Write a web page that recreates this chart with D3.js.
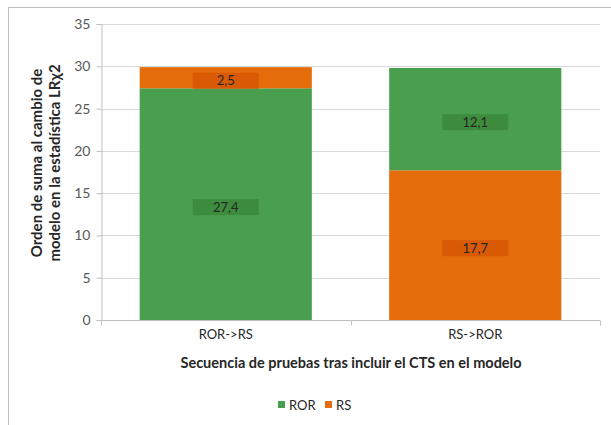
<!DOCTYPE html>
<html>
<head>
<meta charset="utf-8">
<script src="https://cdn.jsdelivr.net/npm/d3@7"></script>
<style>
  html, body { margin: 0; padding: 0; background: #fff; }
  svg { display: block; font-family: Lato, "Open Sans", sans-serif; }
</style>
</head>
<body>
<svg id="chart" width="611" height="425"></svg>
<script>
// ---- data ----
const categories = ["ROR->RS", "RS->ROR"];
const rorValues = [27.4, 12.1];
const rsValues = [2.5, 17.7];
const yTicks = [0, 5, 10, 15, 20, 25, 30, 35];
const seriesNames = ["ROR", "RS"];
const seriesColors = ["#4A9F4E", "#E46C0A"];
const labelBoxColors = ["#3D8C3D", "#D95A05"];
const stackOrder = [["ROR", "RS"], ["RS", "ROR"]]; // bottom-to-top per category
const xTitle = "Secuencia de pruebas tras incluir el CTS en el modelo";
const yTitleLines = ["Orden de suma al cambio de", "modelo en la estadística LRχ2"];

const svg = d3.select("#chart");
const margin = { left: 101, right: 11, top: 24, bottom: 105 };
const W = 611, H = 425;
const x = d3.scaleBand().domain(categories).range([margin.left, W - margin.right]).paddingInner(0.31).paddingOuter(0.155);
const y = d3.scaleLinear().domain([0, 35]).range([H - margin.bottom, margin.top]);

// outer frame (left and top lines)
svg.append("line").attr("x1", 8.5).attr("x2", 8.5).attr("y1", 7).attr("y2", 425).attr("stroke", "#BFBFBF").attr("stroke-width", 1);
svg.append("line").attr("x1", 8).attr("x2", 611).attr("y1", 7.5).attr("y2", 7.5).attr("stroke", "#BFBFBF").attr("stroke-width", 1);

// gridlines
svg.append("g").selectAll("line").data(yTicks.filter(d => d > 0)).join("line")
  .attr("x1", margin.left).attr("x2", W - margin.right)
  .attr("y1", d => Math.round(y(d)) + 0.5).attr("y2", d => Math.round(y(d)) + 0.5)
  .attr("stroke", "#D9D9D9").attr("stroke-width", 1);

// y axis
const yAxis = d3.axisLeft(y).tickValues(yTicks).tickSize(5).tickPadding(6).tickFormat(d3.format("d"));
const gy = svg.append("g").attr("transform", `translate(${margin.left + 0.5},0)`).call(yAxis);
gy.select(".domain").attr("stroke", "#BFBFBF");
gy.selectAll(".tick line").attr("stroke", "#BFBFBF");
gy.selectAll(".tick text").attr("fill", "#595959").style("font-size", "14px").style("font-family", "Lato, sans-serif");

// stacked bars
const stacks = categories.map((c, i) => {
  let base = 0;
  return stackOrder[i].map(name => {
    const v = name === "ROR" ? rorValues[i] : rsValues[i];
    const seg = { cat: c, name, v, y0: base, y1: base + v };
    base += v;
    return seg;
  });
}).flat();

const colorOf = d3.scaleOrdinal().domain(seriesNames).range(seriesColors);
const boxOf = d3.scaleOrdinal().domain(seriesNames).range(labelBoxColors);

svg.append("g").selectAll("rect").data(stacks).join("rect")
  .attr("x", d => x(d.cat)).attr("width", x.bandwidth())
  .attr("y", d => y(d.y1)).attr("height", d => y(d.y0) - y(d.y1))
  .attr("fill", d => colorOf(d.name));

// x axis
const gx = svg.append("g").attr("transform", `translate(0,${Math.round(y(0)) + 0.5})`);
gx.append("line").attr("x1", margin.left).attr("x2", W - margin.right).attr("stroke", "#BFBFBF");
const bounds = [margin.left, (x(categories[0]) + x.bandwidth() + x(categories[1])) / 2, W - margin.right];
gx.selectAll("line.tk").data(bounds).join("line").attr("class", "tk")
  .attr("x1", d => Math.round(d) + 0.5).attr("x2", d => Math.round(d) + 0.5).attr("y1", 0).attr("y2", 5)
  .attr("stroke", "#BFBFBF");
gx.selectAll("text").data(categories).join("text")
  .attr("x", d => x(d) + x.bandwidth() / 2).attr("y", 18)
  .attr("text-anchor", "middle").attr("fill", "#262626").style("font-size", "13px").text(d => d);

// data labels
const lbl = svg.append("g").selectAll("g").data(stacks).join("g")
  .attr("transform", d => `translate(${x(d.cat) + x.bandwidth() / 2},${(y(d.y0) + y(d.y1)) / 2 + 3})`);
lbl.append("rect").attr("x", -33).attr("y", -8).attr("width", 66).attr("height", 16)
  .attr("fill", d => boxOf(d.name));
lbl.append("text").attr("text-anchor", "middle").attr("dy", "0.36em")
  .attr("fill", "#262626").style("font-size", "13px")
  .text(d => d3.format(".1f")(d.v).replace(".", ","));

// x title
svg.append("text").attr("x", 351).attr("y", 368).attr("text-anchor", "middle")
  .attr("fill", "#262626").style("font-size", "14.5px").style("font-weight", "bold").text(xTitle);

// y title
const yt = svg.append("text").attr("transform", "translate(0,163) rotate(-90)").attr("text-anchor", "middle")
  .attr("fill", "#262626").style("font-size", "15px").style("font-weight", "bold");
yTitleLines.forEach((t, i) => {
  yt.append("tspan").attr("x", 0).attr("y", 42 + i * 18).text(t);
});

// legend
const legend = svg.append("g").attr("transform", "translate(278,405)");
const legX = [0, 47];
seriesNames.forEach((n, i) => {
  const g = legend.append("g").attr("transform", `translate(${legX[i]},0)`);
  g.append("rect").attr("x", 0).attr("y", -4).attr("width", 7).attr("height", 7).attr("fill", seriesColors[i]);
  g.append("text").attr("x", 11).attr("y", 0).attr("dy", "0.36em").attr("fill", "#262626")
    .style("font-size", "13px").text(n);
});
</script>
</body>
</html>
